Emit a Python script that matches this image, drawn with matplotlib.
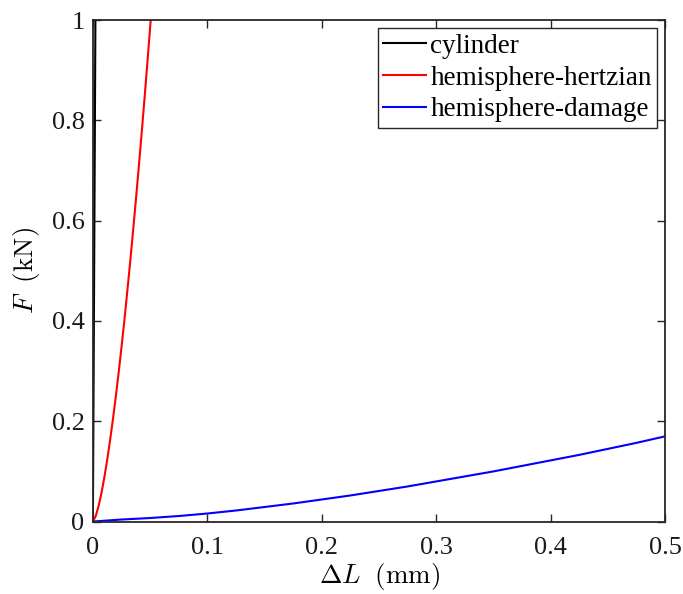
import matplotlib
matplotlib.use("Agg")
import matplotlib.pyplot as plt

# Force-displacement curves (displacement in mm, force in kN)
cyl_dl = [0.0, 0.0022]
cyl_f = [0.0, 1.0]

hertz_dl = [0.0, 0.0025, 0.005, 0.0075, 0.01, 0.0125, 0.015, 0.0175, 0.02, 0.0225,
            0.025, 0.0275, 0.03, 0.0325, 0.035, 0.0375, 0.04, 0.0425, 0.045, 0.0475, 0.0505]
hertz_f = [0.0, 0.011, 0.031, 0.057, 0.088, 0.123, 0.162, 0.204, 0.249, 0.297,
           0.348, 0.401, 0.458, 0.516, 0.577, 0.640, 0.705, 0.772, 0.841, 0.912, 1.0]

damage_dl = [0.0, 0.025, 0.05, 0.075, 0.1, 0.125, 0.15, 0.175, 0.2, 0.225, 0.25,
             0.275, 0.3, 0.325, 0.35, 0.375, 0.4, 0.425, 0.45, 0.475, 0.5]
damage_f = [0.0, 0.004, 0.007, 0.011, 0.016, 0.022, 0.029, 0.036, 0.044, 0.052, 0.061,
            0.070, 0.080, 0.090, 0.100, 0.111, 0.122, 0.133, 0.145, 0.157, 0.170]

x_ticks = [0, 0.1, 0.2, 0.3, 0.4, 0.5]
x_tick_labels = ["0", "0.1", "0.2", "0.3", "0.4", "0.5"]
y_ticks = [0, 0.2, 0.4, 0.6, 0.8, 1.0]
y_tick_labels = ["0", "0.2", "0.4", "0.6", "0.8", "1"]

plt.rcParams["font.family"] = ["Liberation Serif", "DejaVu Serif"]
plt.rcParams["mathtext.fontset"] = "cm"

fig = plt.figure(figsize=(6.83, 5.94), dpi=100)
ax = fig.add_axes([0.136, 0.122, 0.838, 0.844])

ax.plot(cyl_dl, cyl_f, color="black", lw=1.5, label="cylinder")
ax.plot(hertz_dl, hertz_f, color="red", lw=1.5, label="hemisphere-hertzian")
ax.plot(damage_dl, damage_f, color="blue", lw=1.5, label="hemisphere-damage")

ax.set_xlim(0, 0.5)
ax.set_ylim(0, 1)
ax.set_xticks(x_ticks)
ax.set_xticklabels(x_tick_labels)
ax.set_yticks(y_ticks)
ax.set_yticklabels(y_tick_labels)

for s in ax.spines.values():
    s.set_linewidth(1.3)
    s.set_color("#262626")
ax.tick_params(direction="in", top=True, right=True, length=6, width=1.0,
               labelsize=19, colors="#262626")
ax.tick_params(axis="x", pad=11)
ax.tick_params(axis="y", pad=6)
for lbl in ax.get_xticklabels() + ax.get_yticklabels():
    lbl.set_color("#1a1a1a")

ax.set_xlabel(r"$\Delta L\;\ (\mathrm{mm})$", fontsize=19.5, labelpad=1.5)
ax.set_ylabel(r"$F\;\ (\mathrm{kN})$", fontsize=19.5, labelpad=7)

leg = ax.legend(loc="upper right", fontsize=19.5, frameon=True, fancybox=False,
                edgecolor="#262626", framealpha=1, handlelength=1.6,
                handletextpad=0.15, borderpad=0.2, labelspacing=0.25,
                borderaxespad=0.3)
leg.get_frame().set_linewidth(1.0)

fig.savefig("out.png", dpi=100)
